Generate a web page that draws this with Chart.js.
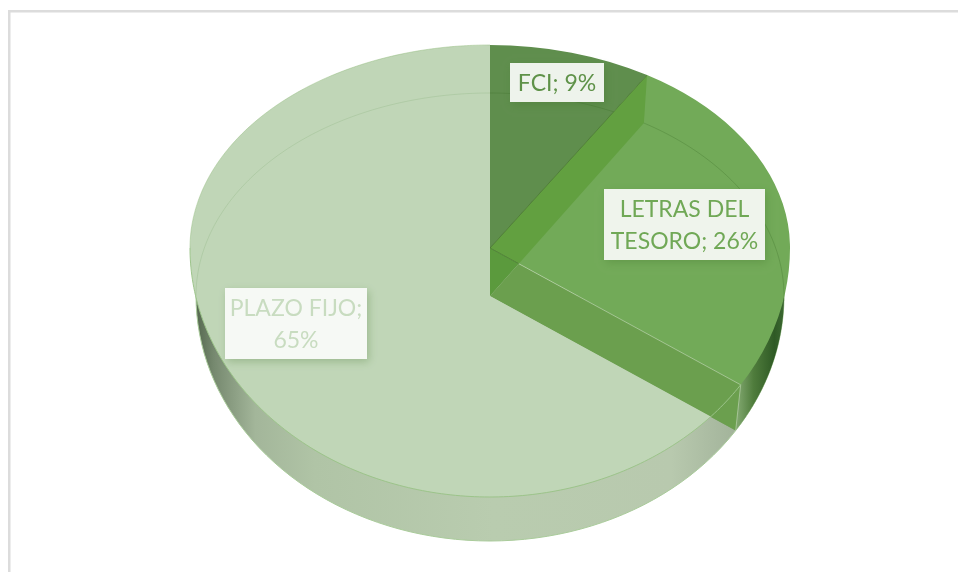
<!DOCTYPE html>
<html>
<head>
<meta charset="utf-8">
<style>html,body{margin:0;padding:0;background:#fff}canvas{display:block}</style>
<script src="https://cdn.jsdelivr.net/npm/chart.js@4"></script>
</head>
<body>
<canvas id="c" width="958" height="572"></canvas>
<script>
const categories = ['FCI', 'LETRAS DEL TESORO', 'PLAZO FIJO'];
const shares = [9, 26, 65];
const labelLines = [['FCI; 9%'], ['LETRAS DEL', 'TESORO; 26%'], ['PLAZO FIJO;', '65%']];

const faceColors = ['#5f8e4d', '#72aa58', '#c0d6b7'];
const textColors = ['#5f9249', '#70a856', '#c8dcc0'];
const boxFill = ['#eef3ec', '#eff4ec', '#f6f9f5'];
const boxRects = [[510, 63, 94, 39], [604, 189, 161, 71], [225, 288, 142, 71]];

const CX = 490, TOP = {ay: 248, rx: 300, up: 203 / 300, dn: 249 / 300}, BOT = {ay: 296, rx: 294, up: 203 / 294, dn: 245 / 294};
// perspective of the tilted pie: slice edges on screen lean slightly towards the viewer
const lean = a => {const t = a + Math.PI / 2; return a - 0.0524 * Math.sin(t / 2);};
const pt = (e, a) => {const s = Math.sin(a); return [CX + e.rx * Math.cos(a), e.ay + e.rx * s * (s < 0 ? e.up : e.dn)];};
function rimPath(ctx, e, a0, a1, start) {
  const n = 160;
  for (let i = 0; i <= n; i++) {
    const p = pt(e, a0 + (a1 - a0) * i / n);
    if (i === 0 && start) ctx.moveTo(p[0], p[1]); else ctx.lineTo(p[0], p[1]);
  }
}
function poly(ctx, pts, fill) {
  ctx.beginPath();
  pts.forEach((p, i) => i ? ctx.lineTo(p[0], p[1]) : ctx.moveTo(p[0], p[1]));
  ctx.closePath();
  if (fill) {ctx.fillStyle = fill; ctx.fill();}
}
function cross(a, b, c, d) {
  const dx1 = b[0] - a[0], dy1 = b[1] - a[1], dx2 = d[0] - c[0], dy2 = d[1] - c[1];
  const t = ((c[0] - a[0]) * dy2 - (c[1] - a[1]) * dx2) / (dx1 * dy2 - dy1 * dx2);
  return [a[0] + t * dx1, a[1] + t * dy1];
}
function drawFace(ctx, arc) {
  const s0 = arc.startAngle, e0 = arc.endAngle, c0 = arc.circumference;
  arc.startAngle = lean(s0); arc.endAngle = lean(e0); arc.circumference = arc.endAngle - arc.startAngle;
  [[0, TOP.ay + 0.5, TOP.up], [TOP.ay, 572, TOP.dn]].forEach(([y0, y1, sy]) => {
    ctx.save();
    ctx.beginPath(); ctx.rect(0, y0, 958, y1 - y0); ctx.clip();
    ctx.translate(CX, TOP.ay); ctx.scale(1, sy); ctx.translate(-arc.x, -arc.y);
    arc.draw(ctx);
    ctx.restore();
  });
  arc.startAngle = s0; arc.endAngle = e0; arc.circumference = c0;
}

const piePlugin = {
  id: 'pie3d',
  beforeDatasetsDraw(chart) {
    const ctx = chart.ctx, arcs = chart.getDatasetMeta(0).data;
    const [fci, letras, plazo] = arcs;
    const A1 = lean(fci.endAngle), A2 = lean(letras.endAngle);
    const aT = [CX, TOP.ay], aB = [CX, BOT.ay];
    const T1 = pt(TOP, A1), T2 = pt(TOP, A2), B1 = pt(BOT, A1), B2 = pt(BOT, A2);
    const C = cross(aT, T2, aB, B1);

    // frame
    ctx.fillStyle = '#dcdcdc';
    ctx.fillRect(8, 10, 950, 2.5);
    ctx.fillRect(8, 10, 2.5, 562);

    // side walls
    let g = ctx.createLinearGradient(196, 0, 790, 0);
    [[0, '#55684f'], [0.03, '#76896f'], [0.1, '#a3b69a'], [0.2, '#b0c4a6'], [0.5, '#b9ccaf'], [0.8, '#b8c9ae'], [0.9, '#a4b59c'], [1, '#8fa088']]
      .forEach(s => g.addColorStop(s[0], s[1]));
    ctx.beginPath(); rimPath(ctx, BOT, 0, Math.PI * 2, true); ctx.closePath();
    ctx.fillStyle = g; ctx.fill();
    ctx.strokeStyle = '#a9cb9a'; ctx.lineWidth = 1; ctx.stroke();

    g = ctx.createLinearGradient(738, 0, 790, 0);
    [[0, '#7ea56c'], [0.3, '#4f7c3c'], [0.7, '#2f5a25'], [1, '#44713a']].forEach(s => g.addColorStop(s[0], s[1]));
    ctx.beginPath(); ctx.moveTo(CX, BOT.ay); rimPath(ctx, BOT, 0, A2, false); ctx.closePath();
    ctx.fillStyle = g; ctx.fill();

    // top faces of the two darker slices
    drawFace(ctx, fci);
    drawFace(ctx, letras);

    // far rim of the lower ellipse seen through the slices
    ctx.beginPath(); rimPath(ctx, BOT, -Math.PI / 2, 0.02, true);
    ctx.strokeStyle = 'rgba(60,110,40,0.3)'; ctx.lineWidth = 1; ctx.stroke();

    // cut faces
    poly(ctx, [aT, T1, B1, C], '#62a040');
    poly(ctx, [aT, C, aB], '#5b9a3d');
    poly(ctx, [aB, C, T2, B2], '#6b9f4e');
    ctx.beginPath(); ctx.moveTo(aT[0], aT[1]); ctx.lineTo(T1[0], T1[1]);
    ctx.strokeStyle = 'rgba(60,100,40,0.6)'; ctx.lineWidth = 1; ctx.stroke();
    ctx.beginPath(); ctx.moveTo(C[0], C[1]); ctx.lineTo(T2[0], T2[1]); ctx.lineTo(B2[0], B2[1]);
    ctx.strokeStyle = 'rgba(225,238,218,0.45)'; ctx.stroke();
    ctx.beginPath(); ctx.moveTo(aT[0], aT[1]); ctx.lineTo(C[0], C[1]);
    ctx.strokeStyle = 'rgba(60,100,40,0.5)'; ctx.stroke();

    // large slice, cut along the front edge of the wedge
    ctx.save();
    const dx = T2[0] - CX, dy = T2[1] - TOP.ay;
    poly(ctx, [[0, 0], [CX, 0], aB, [CX + dx * 3, BOT.ay + dy * 3], [CX + dx * 3, 572], [0, 572]]);
    ctx.clip();
    drawFace(ctx, plazo);
    ctx.restore();

    ctx.beginPath(); rimPath(ctx, BOT, Math.PI, Math.PI * 1.5, true);
    ctx.strokeStyle = 'rgba(120,165,105,0.22)'; ctx.lineWidth = 1; ctx.stroke();

    // near rim
    ctx.beginPath(); rimPath(ctx, TOP, A2, Math.PI, true);
    ctx.strokeStyle = '#9cc48a'; ctx.lineWidth = 1; ctx.stroke();
    ctx.beginPath(); rimPath(ctx, TOP, Math.PI, Math.PI * 1.5, true);
    ctx.strokeStyle = 'rgba(150,190,130,0.5)'; ctx.stroke();

    // data labels
    ctx.textAlign = 'center'; ctx.textBaseline = 'middle';
    ctx.font = '23px Lato';
    boxRects.forEach((r, i) => {
      ctx.save();
      ctx.shadowColor = 'rgba(60,110,40,0.28)'; ctx.shadowBlur = 8; ctx.shadowOffsetX = 2; ctx.shadowOffsetY = 3;
      ctx.fillStyle = boxFill[i];
      ctx.fillRect(r[0], r[1], r[2], r[3]);
      ctx.restore();
      ctx.fillStyle = textColors[i];
      const lines = labelLines[i], lh = 32;
      lines.forEach((t, j) => {
        ctx.fillText(t, r[0] + r[2] / 2, r[1] + r[3] / 2 + 1.5 + (j - (lines.length - 1) / 2) * lh);
      });
    });
    return false;
  }
};

new Chart(document.getElementById('c'), {
  type: 'pie',
  data: {labels: categories, datasets: [{data: shares, backgroundColor: faceColors, borderWidth: 0}]},
  options: {
    responsive: false, animation: false, radius: 300,
    plugins: {legend: {display: false}, tooltip: {enabled: false}}
  },
  plugins: [piePlugin]
});
</script>
</body>
</html>
